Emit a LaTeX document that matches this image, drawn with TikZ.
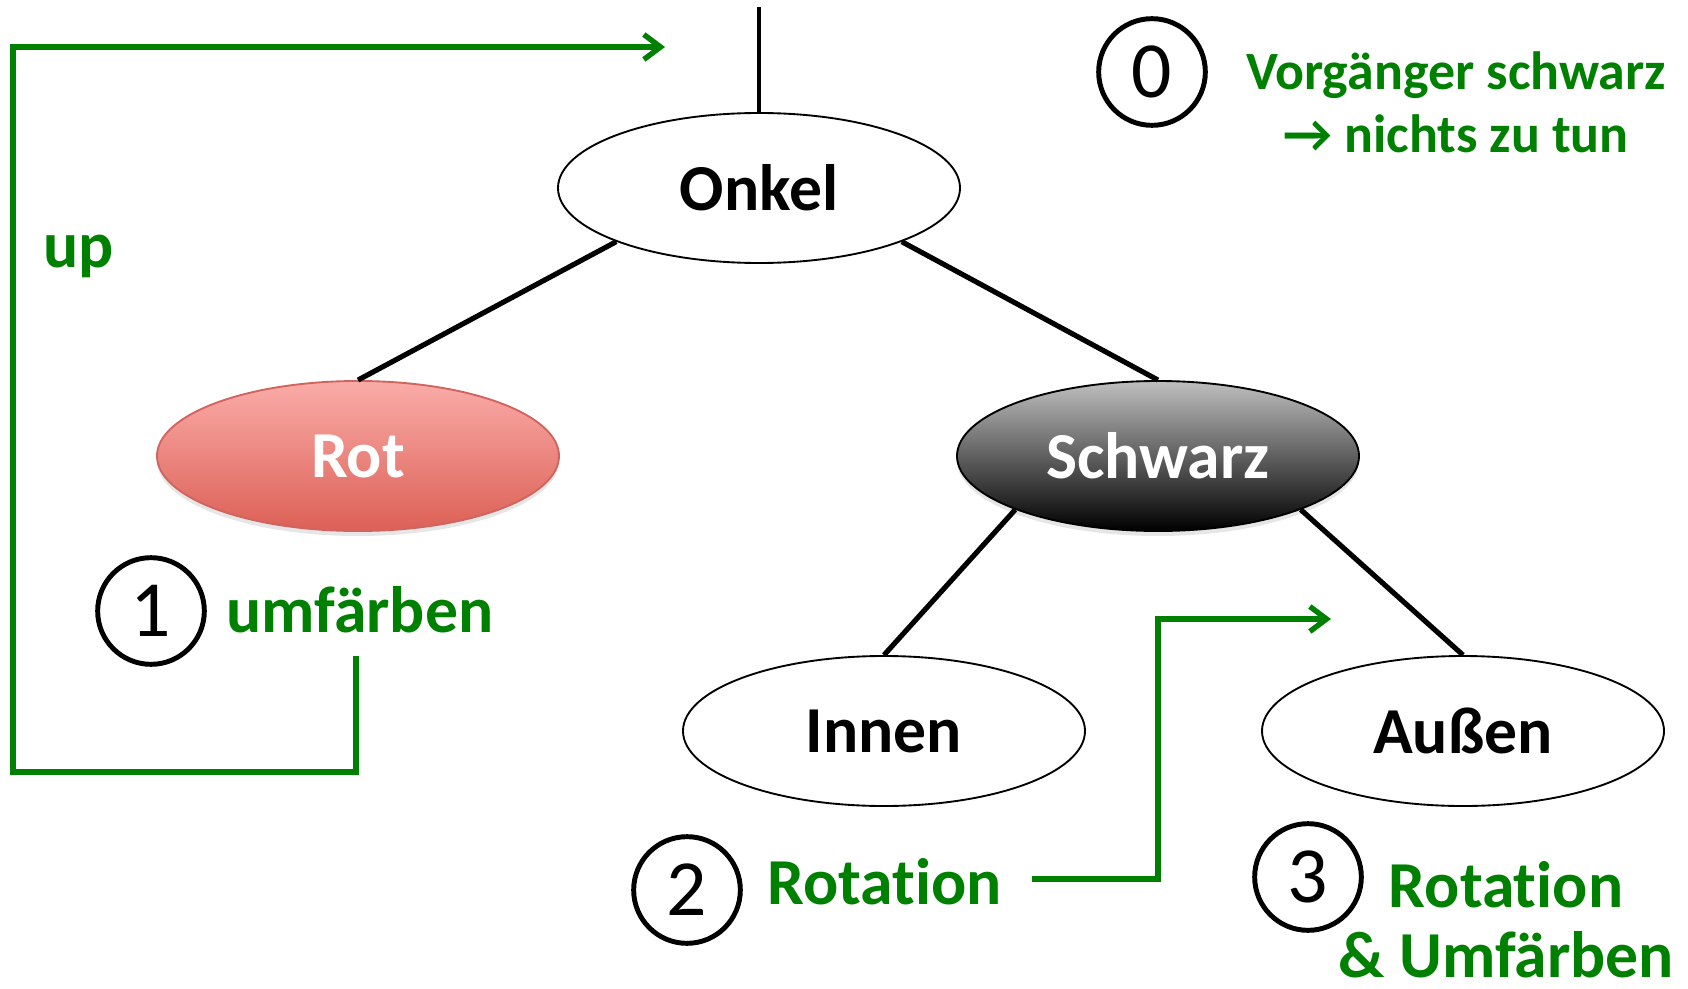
\documentclass[tikz,border=0pt]{standalone}
\usepackage{fontspec}
\setmainfont{Carlito}[Ligatures=CommonOff]
\usetikzlibrary{shapes.geometric,arrows.meta,shadows}
\definecolor{stepgreen}{RGB}{0,128,0}
\definecolor{rotlight}{RGB}{250,172,168}
\definecolor{rotdark}{RGB}{220,96,86}
\definecolor{rotborder}{RGB}{210,100,95}
\begin{document}
\begin{tikzpicture}[x=0.03cm, y=-0.03cm,
	knoten/.style={ellipse, draw, line width=1.6pt, minimum width=12.06cm, minimum height=4.5cm, inner sep=0pt, font=\fontsize{56}{62}\selectfont\bfseries},
	kante/.style={line width=4.4pt},
	nummer/.style={circle, draw, line width=4.2pt, minimum size=3.2cm, inner sep=0pt, font=\fontsize{68}{70}\selectfont},
	schritt/.style={text=stepgreen, inner sep=0pt, font=\fontsize{56}{62}\selectfont\bfseries},
	hinweis/.style={text=stepgreen, inner sep=0pt, font=\fontsize{46}{52}\selectfont\bfseries},
	pfeil/.style={draw=stepgreen, line width=4.6pt, -{Straight Barb[length=0.5cm, width=0.75cm]}}
	]
		\useasboundingbox (0,0) rectangle (1688,989);
		
		\draw node[knoten, fill=white] at (759, 188) (onkel) {Onkel};
		\draw node[knoten, draw=rotborder, top color=rotlight, bottom color=rotdark, text=white, drop shadow={shadow xshift=0cm, shadow yshift=-0.15cm, opacity=0.2}] at (358, 456) (rot) {Rot};
		\draw node[knoten, top color=black!25, bottom color=black, text=white, drop shadow={shadow xshift=0cm, shadow yshift=-0.15cm, opacity=0.2}] at (1158, 456) (schwarz) {Schwarz};
		\draw node[knoten, fill=white] at (884, 731) (innen) {Innen};
		\draw node[knoten, fill=white] at (1463, 731) (aussen) {Außen};
		
		\coordinate (wurzel) at (759, 7);
		\draw [kante, line width=3.6pt] (wurzel) -- (onkel.north);
		\draw [kante] (onkel.south west) -- (rot.north);
		\draw [kante] (onkel.south east) -- (schwarz.north);
		\draw [kante] (schwarz.south west) -- (innen.north);
		\draw [kante] (schwarz.south east) -- (aussen.north);
		
		\draw node[nummer] at (1152, 72) (n0) {0};
		\draw node[hinweis, anchor=base] at (1456, 90) (vorg) {Vorgänger schwarz};
		\draw node[hinweis, anchor=base] at (1456, 153) (nichts) {→ nichts zu tun};
		
		\draw node[schritt, anchor=base west] at (43, 267) (up) {up};
		\draw node[nummer] at (151, 611) (n1) {1};
		\draw node[schritt, anchor=base west] at (226, 632) (umf) {umfärben};
		
		\draw node[nummer] at (687, 890) (n2) {2};
		\draw node[schritt, anchor=base west] at (767, 904) (rotation) {Rotation};
		
		\draw node[nummer] at (1308, 877) (n3) {3};
		\draw node[schritt, anchor=base] at (1506, 907) (rotation3) {Rotation};
		\draw node[schritt, anchor=base] at (1506, 977) (umf3) {\& Umfärben};
		
		\coordinate (umfstart) at (356, 656);
		\coordinate (loopecke) at (13, 772);
		\coordinate (upziel) at (665, 47);
		\draw [pfeil] (umfstart) |- (loopecke) |- (upziel);
		
		\coordinate (rotstart) at (1032, 879);
		\coordinate (rotknick) at (1158, 619);
		\coordinate (rotziel) at (1331, 619);
		\draw [pfeil] (rotstart) -| (rotknick) -- (rotziel);
	\end{tikzpicture}
\end{document}
